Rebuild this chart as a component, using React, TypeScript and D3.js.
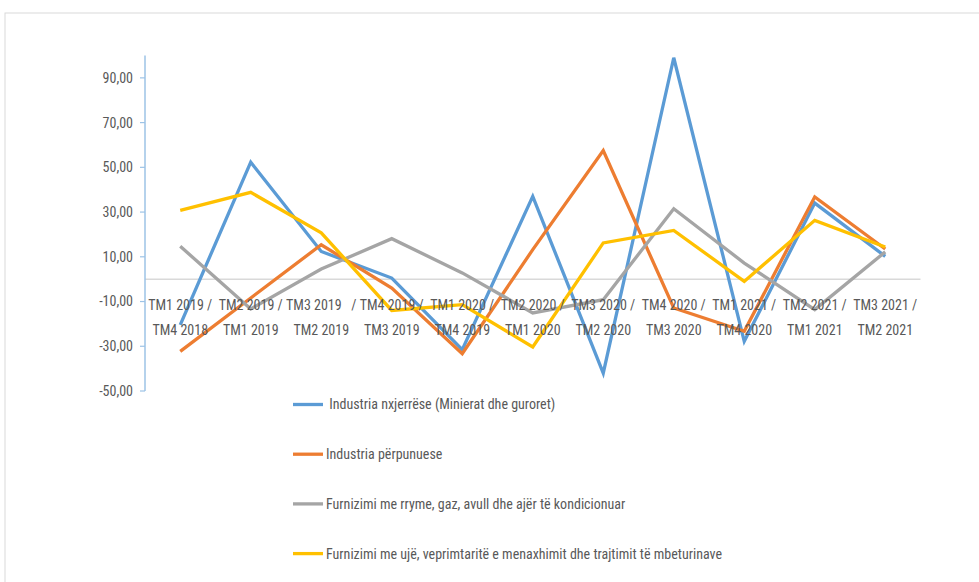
import * as d3 from 'd3'

const categories = [
  ['TM1 2019 /', 'TM4 2018'],
  ['TM2 2019 /', 'TM1 2019'],
  ['TM3 2019   /', 'TM2 2019'],
  ['TM4 2019 /', 'TM3 2019'],
  ['TM1 2020 /', 'TM4 2019'],
  ['TM2 2020 /', 'TM1 2020'],
  ['TM3 2020 /', 'TM2 2020'],
  ['TM4 2020 /', 'TM3 2020'],
  ['TM1 2021 /', 'TM4 2020'],
  ['TM2 2021 /', 'TM1 2021'],
  ['TM3 2021 /', 'TM2 2021'],
]

const seriesNames = [
  ' Industria nxjerrëse (Minierat dhe guroret)',
  'Industria përpunuese',
  'Furnizimi me rryme, gaz, avull dhe ajër të kondicionuar',
  'Furnizimi me ujë, veprimtaritë e menaxhimit dhe trajtimit të mbeturinave',
]

const extractive = [-20.4, 52.3, 12.4, 0.5, -31.5, 37, -42, 99, -27.8, 34, 10.2]
const manufacturing = [-32.3, -8.4, 15.4, -4, -33.3, 13.2, 57.5, -12.9, -23.3, 36.8, 13.5]
const electricity = [14.7, -13.3, 4.5, 18.1, 2.8, -15.1, -9.2, 31.5, 7.2, -13.6, 12.2]
const water = [30.8, 38.8, 20.7, -14, -11.4, -30.3, 16.2, 21.8, -1, 26.3, 14.4]

const seriesValues = [extractive, manufacturing, electricity, water]
const colors = ['#5B9BD5', '#ED7D31', '#A5A5A5', '#FFC000']
const yTicks = [-50, -30, -10, 10, 30, 50, 70, 90]

const W = 979
const H = 582
const font = "'Liberation Sans Narrow', 'Arial Narrow', 'Roboto Condensed', 'Liberation Sans', sans-serif"

export default function App() {
  const x = d3.scaleBand<number>()
    .domain(d3.range(categories.length))
    .range([145, 920.5])
  const y = d3.scaleLinear().domain([-50, 100]).range([391, 55.5])
  const cx = (i: number) => x(i)! + x.bandwidth() / 2

  const line = d3.line<number>()
    .x((_, i) => cx(i))
    .y(d => y(d))

  return (
    <svg width={W} height={H} style={{ position: 'fixed', left: 0, top: 0, display: 'block', background: '#fff' }}>
      <rect x={5} y={13} width={W + 20} height={H + 20} fill="#fff" stroke="#D9D9D9" strokeWidth={1} />

      {/* zero line */}
      <line x1={145} x2={920.5} y1={y(0)} y2={y(0)} stroke="#D9D9D9" strokeWidth={1.5} />

      {/* y axis */}
      <line x1={145} x2={145} y1={y(100)} y2={y(-50)} stroke="#9DC3E6" strokeWidth={1.5} />
      {yTicks.map(t => (
        <g key={t}>
          <line x1={140} x2={145} y1={y(t)} y2={y(t)} stroke="#9DC3E6" strokeWidth={1.2} />
          <text x={133} y={y(t)} dy="0.35em" textAnchor="end" fontFamily={font} fontSize={14} fill="#595959">
            {d3.format('.2f')(t).replace('.', ',').replace('−', '-')}
          </text>
        </g>
      ))}

      {/* lines */}
      {seriesValues.map((vals, s) => (
        <path key={s} d={line(vals)!} fill="none" stroke={colors[s]} strokeWidth={3.3} strokeLinejoin="miter" />
      ))}

      {/* category labels */}
      {categories.map((c, i) => (
        <text key={i} textAnchor="middle" fontFamily={font} fontSize={14} fill="#595959" style={{ whiteSpace: 'pre' }}>
          <tspan x={cx(i)} y={310}>{c[0]}</tspan>
          <tspan x={cx(i)} y={335}>{c[1]}</tspan>
        </text>
      ))}

      {/* legend */}
      {seriesNames.map((n, s) => {
        const ly = 404.5 + s * 49.7
        return (
          <g key={s}>
            <line x1={293} x2={323} y1={ly} y2={ly} stroke={colors[s]} strokeWidth={3.3} />
            <text x={326} y={ly} dy="0.35em" fontFamily={font} fontSize={14} fill="#595959" style={{ whiteSpace: 'pre' }}>
              {n}
            </text>
          </g>
        )
      })}
    </svg>
  )
}
